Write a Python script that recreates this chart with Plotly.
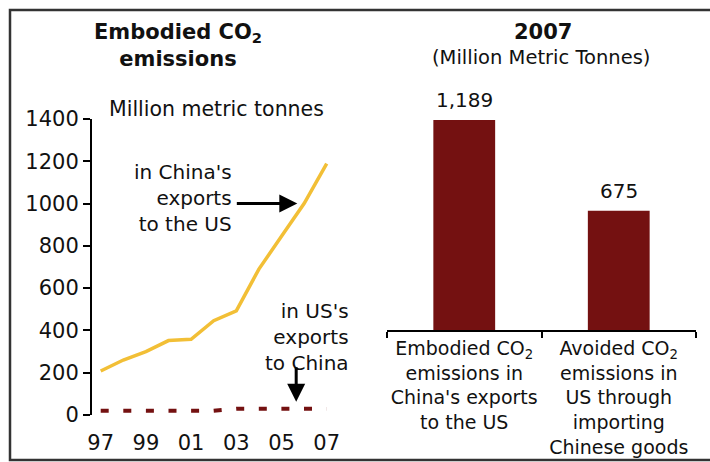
import plotly.graph_objects as go

# Embodied CO2 in bilateral trade, million metric tonnes
years = [1997, 1998, 1999, 2000, 2001, 2002, 2003, 2004, 2005, 2006, 2007]
china_to_us = [208, 260, 300, 352, 358, 446, 493, 690, 845, 1000, 1189]
us_to_china = [20, 20, 20, 20, 20, 20, 30, 30, 30, 30, 30]
year_tickvals = [1997, 1999, 2001, 2003, 2005, 2007]
year_ticktext = ["97", "99", "01", "03", "05", "07"]

# 2007 comparison
bar_categories = [
    "Embodied CO<sub>2</sub><br>emissions in<br>China's exports<br>to the US",
    "Avoided CO<sub>2</sub><br>emissions in<br>US through<br>importing<br>Chinese goods",
]
bar_values = [1189, 675]
bar_labels = ["1,189", "675"]

W, H = 710, 462
FONT = "DejaVu Sans"
INK = "#111111"
GOLD = "#F2BF36"
MAROON = "#741111"


def px_x(p):
    return p / W


def px_y(p):
    return 1 - p / H


fig = go.Figure()

fig.add_trace(go.Scatter(
    x=years, y=china_to_us, mode="lines",
    line=dict(color=GOLD, width=3.5),
    xaxis="x", yaxis="y", showlegend=False, hoverinfo="skip",
))
fig.add_trace(go.Scatter(
    x=years, y=us_to_china, mode="lines",
    line=dict(color=MAROON, width=4, dash="8px,14.6px"),
    xaxis="x", yaxis="y", showlegend=False, hoverinfo="skip",
))

fig.add_trace(go.Bar(
    x=bar_categories, y=bar_values, marker=dict(color=MAROON, line=dict(width=0)),
    width=0.4, xaxis="x2", yaxis="y2", showlegend=False, hoverinfo="skip",
))

annotations = []
# value labels above bars
for cat, val, lab in zip(bar_categories, bar_values, bar_labels):
    annotations.append(dict(
        x=cat, y=val, xref="x2", yref="y2", text=lab, showarrow=False,
        yanchor="bottom", yshift=6, font=dict(size=20, color=INK, family=FONT),
    ))

# titles and notes
annotations += [
    dict(x=px_x(178), y=px_y(46), xref="paper", yref="paper",
         text="<b>Embodied CO<sub>2</sub></b><br><b>emissions</b>", showarrow=False,
         xanchor="center", yanchor="middle", font=dict(size=21, color=INK, family=FONT)),
    dict(x=px_x(543), y=px_y(32), xref="paper", yref="paper",
         text="<b>2007</b>", showarrow=False,
         xanchor="center", yanchor="middle", font=dict(size=21, color=INK, family=FONT)),
    dict(x=px_x(541), y=px_y(58), xref="paper", yref="paper",
         text="(Million Metric Tonnes)", showarrow=False,
         xanchor="center", yanchor="middle", font=dict(size=19.5, color=INK, family=FONT)),
    dict(x=px_x(216), y=px_y(109), xref="paper", yref="paper",
         text="Million metric tonnes", showarrow=False,
         xanchor="center", yanchor="middle", font=dict(size=20.5, color=INK, family=FONT)),
    dict(x=px_x(234), y=px_y(198), xref="paper", yref="paper",
         text="in China's<br>exports<br>to the US", showarrow=False, align="right",
         xanchor="right", yanchor="middle", font=dict(size=20, color=INK, family=FONT)),
    dict(x=px_x(351), y=px_y(337), xref="paper", yref="paper",
         text="in US's<br>exports<br>to China", showarrow=False, align="right",
         xanchor="right", yanchor="middle", font=dict(size=20, color=INK, family=FONT)),
    # arrows
    dict(x=2005.7, y=1000, xref="x", yref="y", ax=-62, ay=0, text="",
         showarrow=True, arrowhead=2, arrowsize=1.2, arrowwidth=3, arrowcolor="#000000"),
    dict(x=2005.65, y=63, xref="x", yref="y", ax=0, ay=-36, text="",
         showarrow=True, arrowhead=2, arrowsize=1.2, arrowwidth=3, arrowcolor="#000000"),
]

# outer frame
shapes = [dict(type="rect", xref="paper", yref="paper",
               x0=px_x(10), x1=px_x(716), y0=px_y(460), y1=px_y(10),
               line=dict(color="#333333", width=2.5), fillcolor="rgba(0,0,0,0)")]

fig.update_layout(
    width=W, height=H, autosize=False,
    margin=dict(l=0, r=0, t=0, b=0, pad=0, autoexpand=False),
    paper_bgcolor="white", plot_bgcolor="white",
    font=dict(family=FONT, color=INK),
    annotations=annotations,
    shapes=shapes,
    xaxis=dict(
        domain=[px_x(92), px_x(340)], range=[1996.615, 1996.615 + 248 / 22.6],
        tickvals=year_tickvals, ticktext=year_ticktext, tickangle=0, automargin=False,
        showgrid=False, zeroline=False, showline=False,
        ticks="outside", ticklen=9, tickcolor="rgba(0,0,0,0)",
        tickfont=dict(size=21, color=INK, family=FONT), fixedrange=True,
    ),
    yaxis=dict(
        domain=[px_y(415), px_y(119)], range=[0, 1400], automargin=False,
        tickvals=[0, 200, 400, 600, 800, 1000, 1200, 1400],
        showgrid=False, zeroline=False, showline=True, linecolor="#000000", linewidth=2,
        ticks="outside", ticklen=7, tickwidth=2, tickcolor="#000000",
        tickfont=dict(size=21, color=INK, family=FONT), fixedrange=True,
    ),
    xaxis2=dict(
        domain=[px_x(387), px_x(696)], anchor="y2", type="category",
        tickangle=0, automargin=False,
        showgrid=False, zeroline=False, showline=True, linecolor="#000000", linewidth=2,
        ticks="outside", tickson="boundaries", ticklen=6, tickwidth=2, tickcolor="#000000",
        tickfont=dict(size=19, color=INK, family=FONT), fixedrange=True,
    ),
    yaxis2=dict(
        domain=[px_y(330), px_y(100)], range=[0, 230 / 0.1766], anchor="x2",
        visible=False, fixedrange=True,
    ),
)

fig.write_html("out.html")
